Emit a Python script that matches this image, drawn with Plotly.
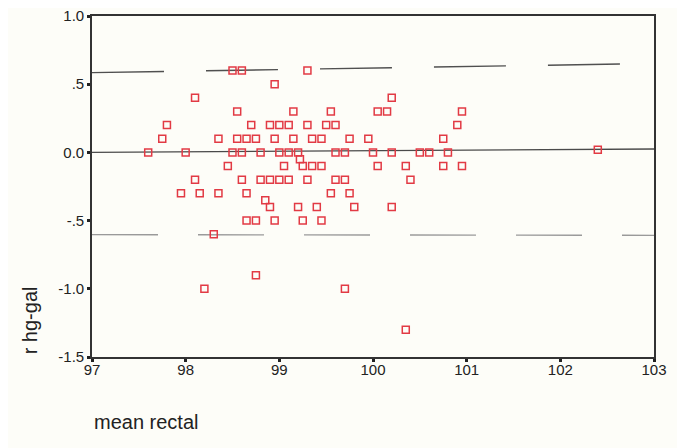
import plotly.graph_objects as go

# Scatter data: mean rectal (x) vs r hg-gal difference (y)
mean_rectal = [
    98.5, 98.6, 99.3, 98.95, 98.1, 100.2,
    98.55, 99.15, 99.55, 100.05, 100.15, 100.95,
    97.8, 98.7, 98.9, 99.0, 99.1, 99.3, 99.5, 99.6, 100.9,
    97.75, 98.35, 98.55, 98.65, 98.75, 98.95, 99.15, 99.35, 99.45, 99.75, 99.95, 100.75,
    97.6, 98.0, 98.5, 98.6, 98.8, 99.0, 99.1, 99.2, 99.6, 99.7, 100.0, 100.2, 100.5, 100.6, 100.8, 102.4,
    99.22,
    98.45, 99.05, 99.25, 99.35, 99.45, 100.05, 100.35, 100.75, 100.95,
    98.1, 98.6, 98.8, 98.9, 99.0, 99.1, 99.3, 99.6, 99.7, 100.4,
    97.95, 98.15, 98.35, 98.65, 99.55, 99.75,
    98.85,
    98.9, 99.2, 99.4, 99.8, 100.2,
    98.65, 98.75, 98.95, 99.25, 99.45,
    98.3, 98.75, 98.2, 99.7, 100.35,
]
r_hg_gal = [
    0.6, 0.6, 0.6, 0.5, 0.4, 0.4,
    0.3, 0.3, 0.3, 0.3, 0.3, 0.3,
    0.2, 0.2, 0.2, 0.2, 0.2, 0.2, 0.2, 0.2, 0.2,
    0.1, 0.1, 0.1, 0.1, 0.1, 0.1, 0.1, 0.1, 0.1, 0.1, 0.1, 0.1,
    0.0, 0.0, 0.0, 0.0, 0.0, 0.0, 0.0, 0.0, 0.0, 0.0, 0.0, 0.0, 0.0, 0.0, 0.0, 0.02,
    -0.05,
    -0.1, -0.1, -0.1, -0.1, -0.1, -0.1, -0.1, -0.1, -0.1,
    -0.2, -0.2, -0.2, -0.2, -0.2, -0.2, -0.2, -0.2, -0.2, -0.2,
    -0.3, -0.3, -0.3, -0.3, -0.3, -0.3,
    -0.35,
    -0.4, -0.4, -0.4, -0.4, -0.4,
    -0.5, -0.5, -0.5, -0.5, -0.5,
    -0.6, -0.9, -1.0, -1.0, -1.3,
]

# Reference lines (endpoints)
line_x = [97, 103]
upper_limit = [0.585, 0.652]
mean_line = [0.0, 0.025]
lower_limit = [-0.603, -0.608]

x_ticks = [97, 98, 99, 100, 101, 102, 103]
y_ticks = [1.0, 0.5, 0.0, -0.5, -1.0, -1.5]
y_tick_labels = ["1.0", ".5", "0.0", "-.5", "-1.0", "-1.5"]

fig = go.Figure()

fig.add_trace(go.Scatter(x=line_x, y=upper_limit, mode="lines",
                         line=dict(color="#505050", width=1.4, dash="72px,42px"),
                         hoverinfo="skip", showlegend=False))
fig.add_trace(go.Scatter(x=line_x, y=mean_line, mode="lines",
                         line=dict(color="#4a4a4a", width=1.3),
                         hoverinfo="skip", showlegend=False))
fig.add_trace(go.Scatter(x=line_x, y=lower_limit, mode="lines",
                         line=dict(color="#9a9a9a", width=1.4, dash="66px,40px"),
                         hoverinfo="skip", showlegend=False))

fig.add_trace(go.Scatter(
    x=mean_rectal, y=r_hg_gal, mode="markers",
    marker=dict(symbol="square-open", size=7, color="#e23a44",
                line=dict(width=1.5, color="#e23a44")),
    showlegend=False))

font_family = "Liberation Sans, Arial, sans-serif"

# page body has an 8px default margin, so the figure is shrunk and shifted
fig.update_layout(
    width=677, height=440,
    margin=dict(l=84, r=31, t=8, b=91),
    paper_bgcolor="#fdfdf8",
    plot_bgcolor="#fdfdf8",
    font=dict(family=font_family, color="#222222", size=15),
    xaxis=dict(
        range=[97, 103], tickvals=x_ticks, ticktext=[str(v) for v in x_ticks],
        showgrid=False, zeroline=False, automargin=False,
        showline=True, linecolor="#333333", linewidth=1.6, mirror=True,
        ticks="outside", ticklen=3, tickwidth=3, tickcolor="#222222",
        tickfont=dict(size=15, family=font_family, color="#222222"),
        ticklabeloverflow="allow", ticklabelstandoff=-5,
    ),
    yaxis=dict(
        range=[-1.5, 1.0], tickvals=y_ticks, ticktext=y_tick_labels,
        showgrid=False, zeroline=False, automargin=False,
        showline=True, linecolor="#333333", linewidth=1.6, mirror=True,
        ticks="outside", ticklen=3, tickwidth=3, tickcolor="#222222",
        tickfont=dict(size=15, family=font_family, color="#222222"),
        ticklabeloverflow="allow",
    ),
    annotations=[
        dict(text="mean rectal", xref="paper", yref="paper", x=0.0, y=-0.192,
             xanchor="left", yanchor="middle", showarrow=False,
             font=dict(size=20, family=font_family, color="#222222")),
        dict(text="r hg-gal", xref="paper", yref="paper", x=-0.110, y=0.108,
             xanchor="center", yanchor="middle", textangle=-90, showarrow=False,
             font=dict(size=20, family=font_family, color="#222222")),
    ],
)

fig.write_html("out.html")
